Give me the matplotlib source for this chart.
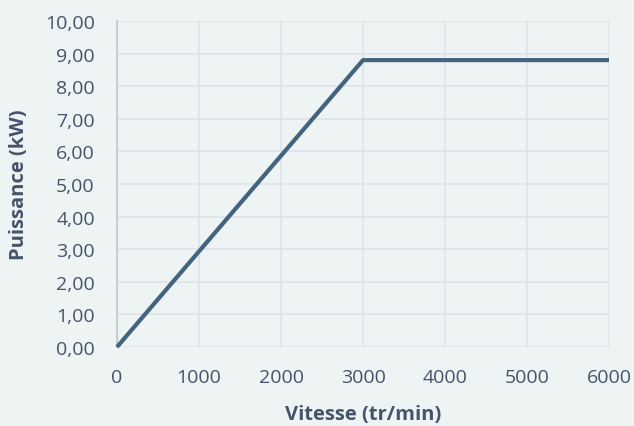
import matplotlib.pyplot as plt
from matplotlib.ticker import FuncFormatter

vitesse = [0, 3000, 6000]
puissance = [0.0, 8.8, 8.8]

bg = "#eef3f4"
txt = "#44546a"

plt.rcParams['font.family'] = ['Open Sans', 'DejaVu Sans']

fig = plt.figure(figsize=(6.34, 4.27), dpi=100, facecolor=bg)
# plot area: x 117..609 px, y 22..348 px
ax = fig.add_axes([117 / 634, 1 - 348 / 427, 492 / 634, 326 / 427], facecolor=bg)

ax.plot(vitesse, puissance, color="#44637f", lw=3, solid_capstyle="butt", zorder=3, clip_on=False)

ax.set_xlim(0, 6000)
ax.set_ylim(0, 10)
ax.set_xticks(range(0, 6001, 1000))
ax.set_yticks(range(0, 11))
ax.yaxis.set_major_formatter(FuncFormatter(lambda v, p: f"{v:.2f}".replace(".", ",")))

ax.grid(True, color="#dde3ea", lw=1.2)
ax.set_axisbelow(True)
for s in ["top", "right", "bottom"]:
    ax.spines[s].set_visible(False)
ax.spines["left"].set_color("#bcc6d3")
ax.spines["left"].set_linewidth(1.2)
ax.tick_params(length=0, labelsize=14, colors=txt)
ax.tick_params(axis="y", pad=16)
ax.tick_params(axis="x", pad=15)

ax.set_xlabel("Vitesse (tr/min)", fontsize=14.5, fontweight="bold", color=txt)
ax.set_ylabel("Puissance (kW)", fontsize=14.5, fontweight="bold", color=txt)
ax.xaxis.set_label_coords(0.5, -57 / 326)
ax.yaxis.set_label_coords(-88 / 492, 0.5)

fig.savefig("out.png", dpi=100, facecolor=bg)
